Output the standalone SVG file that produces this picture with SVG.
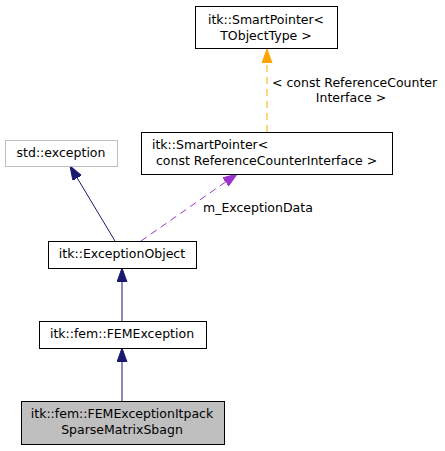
<svg xmlns="http://www.w3.org/2000/svg" width="445" height="451" viewBox="0 0 445 451">
<style>
text{font-family:"DejaVu Sans","Liberation Sans",sans-serif;font-size:12.5px;fill:#000}
.c{text-anchor:middle}
.box{fill:#fff;stroke:#000;stroke-width:1}
.grey{fill:#fff;stroke:#bfbfbf;stroke-width:1}
.cur{fill:#bfbfbf;stroke:#000;stroke-width:1}
.inh{fill:none;stroke:#191970;stroke-width:1}
.use{fill:none;stroke:#9a32cd;stroke-width:1;stroke-dasharray:7,5}
.tpl{fill:none;stroke:#ffa500;stroke-width:1;stroke-dasharray:7,5}
</style>
<defs>
<marker id="aB" markerUnits="userSpaceOnUse" markerWidth="15" markerHeight="11" refX="14" refY="5" orient="auto"><path d="M0,0 L14,5 L0,10 z" fill="#191970" stroke="#191970"/></marker>
<marker id="aP" markerUnits="userSpaceOnUse" markerWidth="15" markerHeight="11" refX="14" refY="5" orient="auto"><path d="M0,0 L14,5 L0,10 z" fill="#9a32cd" stroke="#9a32cd"/></marker>
<marker id="aO" markerUnits="userSpaceOnUse" markerWidth="15" markerHeight="11" refX="14" refY="5" orient="auto"><path d="M0,0 L14,5 L0,10 z" fill="#ffa500" stroke="#ffa500"/></marker>
</defs>
<g id="connectors">
<line class="tpl" x1="267" y1="132" x2="267" y2="49" marker-end="url(#aO)"/>
<text x="272" y="87">&lt; const ReferenceCounter</text>
<text class="c" x="351" y="102">Interface &gt;</text>
<line class="inh" x1="115" y1="241" x2="70" y2="166" marker-end="url(#aB)"/>
<line class="use" x1="141" y1="241" x2="237" y2="174" marker-end="url(#aP)"/>
<text x="203" y="212">m_ExceptionData</text>
<line class="inh" x1="122" y1="321" x2="122" y2="268" marker-end="url(#aB)"/>
<line class="inh" x1="122" y1="401" x2="122" y2="348" marker-end="url(#aB)"/>
</g>
<g id="node-smartpointer-tobjecttype">
<rect class="box" x="195.5" y="6.5" width="142" height="42"/>
<text class="c" x="266" y="24">itk::SmartPointer&lt;</text>
<text class="c" x="266" y="40"> TObjectType &gt;</text>
</g>
<g id="node-smartpointer-const">
<rect class="box" x="141.5" y="132.5" width="251" height="42"/>
<text x="152" y="149">itk::SmartPointer&lt;</text>
<text x="156" y="165">const ReferenceCounterInterface &gt;</text>
</g>
<g id="node-std-exception">
<rect class="grey" x="5.5" y="140.5" width="112" height="26"/>
<text class="c" x="61" y="157">std::exception</text>
</g>
<g id="node-exceptionobject">
<rect class="box" x="48.5" y="241.5" width="148" height="27"/>
<text class="c" x="122" y="258">itk::ExceptionObject</text>
</g>
<g id="node-femexception">
<rect class="box" x="39.5" y="321.5" width="167" height="27"/>
<text class="c" x="122" y="338">itk::fem::FEMException</text>
</g>
<g id="node-femexceptionitpack">
<rect class="cur" x="21.5" y="401.5" width="203" height="43"/>
<text class="c" x="122" y="418">itk::fem::FEMExceptionItpack</text>
<text class="c" x="122" y="434">SparseMatrixSbagn</text>
</g>
</svg>
